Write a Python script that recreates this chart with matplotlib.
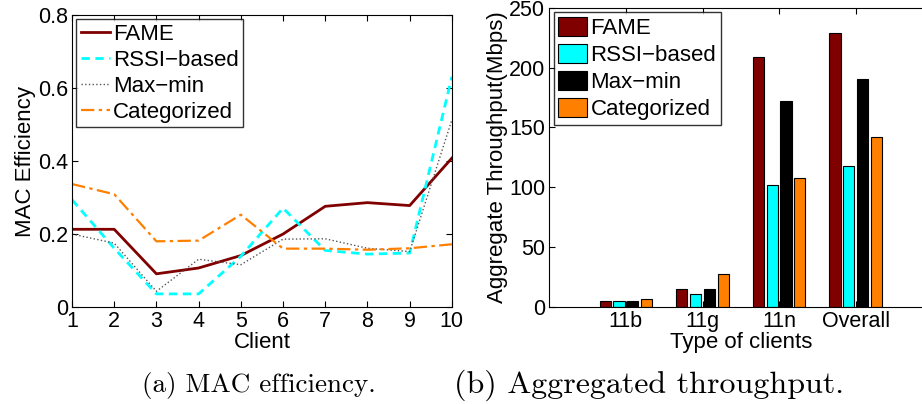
import numpy as np
import matplotlib
matplotlib.use("Agg")
import matplotlib.pyplot as plt

plt.rcParams['font.family'] = ['Liberation Sans', 'DejaVu Sans']

# MAC efficiency per client
clients = [1, 2, 3, 4, 5, 6, 7, 8, 9, 10]
fame_eff = [0.213, 0.213, 0.091, 0.107, 0.141, 0.200, 0.276, 0.286, 0.278, 0.408]
rssi_eff = [0.294, 0.161, 0.036, 0.036, 0.139, 0.271, 0.155, 0.145, 0.148, 0.631]
maxmin_eff = [0.200, 0.175, 0.043, 0.131, 0.116, 0.186, 0.187, 0.161, 0.152, 0.513]
cat_eff = [0.337, 0.309, 0.180, 0.182, 0.253, 0.160, 0.160, 0.157, 0.161, 0.172]

# aggregate throughput per client type
types = ['11b', '11g', '11n', 'Overall']
fame_thr = [4.7, 15.3, 209, 229]
rssi_thr = [5.3, 11.1, 101.6, 118]
maxmin_thr = [4.7, 14.8, 172, 190.7]
cat_thr = [7.0, 27.8, 107.7, 142.3]

names = ['FAME', 'RSSI\u2212based', 'Max\u2212min', 'Categorized']
colors = ['#800000', '#00ffff', '#000000', '#ff8000']

fig = plt.figure(figsize=(9.22, 4.04), dpi=100)
tfs = 15.5  # tick labels
fs = 16     # axis labels
lfs = 16    # legend

# (a) MAC efficiency
ax1 = fig.add_axes([0.0781, 0.240, 0.412, 0.7228])
ax1.plot(clients, fame_eff, color='#800000', lw=2, ls='-', label=names[0])
ax1.plot(clients, rssi_eff, color='#00ffff', lw=2, ls=(0, (3, 2)), label=names[1])
ax1.plot(clients, maxmin_eff, color='#555555', lw=1, ls=':', label=names[2])
ax1.plot(clients, cat_eff, color='#ff8000', lw=1.6, ls=(0, (6, 2, 1.5, 2)), label=names[3])
ax1.set_xlim(1, 10)
ax1.set_ylim(0, 0.8)
ax1.set_xticks(clients)
ax1.set_yticks([0, 0.2, 0.4, 0.6, 0.8])
ax1.set_yticklabels(['0', '0.2', '0.4', '0.6', '0.8'])
ax1.set_xlabel('Client', fontsize=fs, labelpad=0)
ax1.set_ylabel('MAC Efficiency', fontsize=fs, labelpad=1)
ax1.tick_params(direction='in', top=True, right=True, labelsize=tfs, length=4, pad=3)
leg1 = ax1.legend(loc='upper left', fontsize=lfs, frameon=True, fancybox=False,
                  edgecolor='black', handlelength=1.3, borderpad=0.2,
                  labelspacing=0.22, handletextpad=0.15, borderaxespad=0.2)
leg1.get_frame().set_linewidth(1.0)

# (b) Aggregated throughput
ax2 = fig.add_axes([0.5958, 0.240, 0.4154, 0.741])
x = np.arange(1, len(types) + 1)
series = [fame_thr, rssi_thr, maxmin_thr, cat_thr]
step = 0.18
for i, vals in enumerate(series):
    ax2.bar(x + (i - 1.5) * step, vals, width=0.145, color=colors[i],
            edgecolor='black', linewidth=0.8, label=names[i])
ax2.set_xlim(0, 5)
ax2.set_ylim(0, 250)
ax2.set_xticks(x)
ax2.set_xticklabels(types)
ax2.set_yticks([0, 50, 100, 150, 200, 250])
ax2.set_xlabel('Type of clients', fontsize=fs, labelpad=0)
ax2.set_ylabel('Aggregate Throughput(Mbps)', fontsize=fs, labelpad=1)
ax2.tick_params(direction='in', top=True, right=True, labelsize=tfs, length=4, pad=3)
leg2 = ax2.legend(loc='upper left', fontsize=lfs, frameon=True, fancybox=False,
                  edgecolor='black', handlelength=1.3, handleheight=0.95,
                  borderpad=0.2, labelspacing=0.22, handletextpad=0.15,
                  borderaxespad=0.2)
leg2.get_frame().set_linewidth(1.0)

# captions
fig.text(0.281, 0.047, '(a) MAC efficiency.', family='cmr10', fontsize=19.5,
         ha='center', va='center')
fig.text(0.704, 0.047, '(b) Aggregated throughput.', family='cmr10', fontsize=23,
         ha='center', va='center')

fig.savefig('out.png', dpi=100)
